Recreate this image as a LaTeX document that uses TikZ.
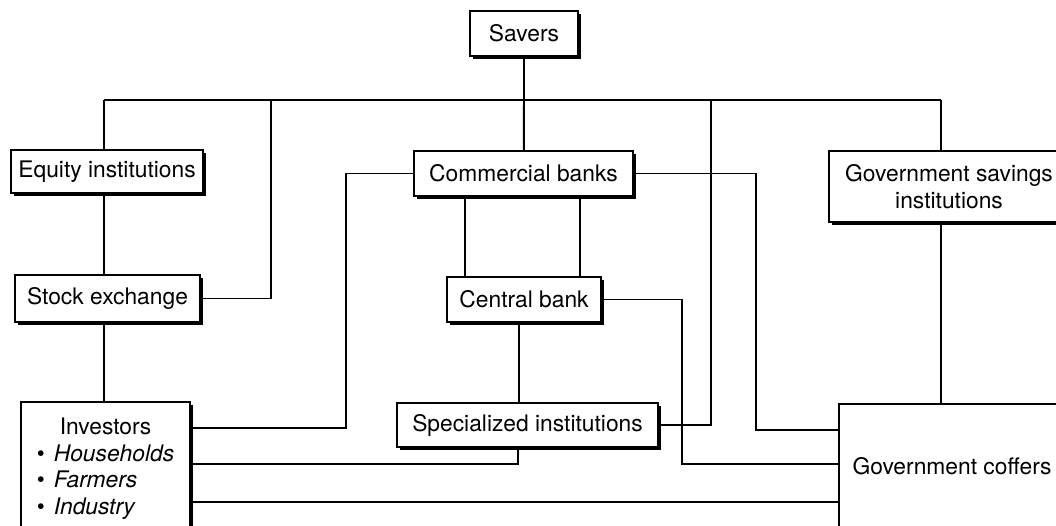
\documentclass[tikz,border=0pt]{standalone}
\usepackage{fontspec}
\setmainfont{TeX Gyre Heros}
\usetikzlibrary{shadows}
\begin{document}
\begin{tikzpicture}[x=1pt,y=-1pt]
	 \tikzstyle{box}=[draw,line width=1.9pt,fill=white,inner sep=0pt,font=\fontsize{22.8}{26.5}\selectfont,
	   drop shadow={shadow xshift=2.6pt,shadow yshift=-2.6pt,fill=black,opacity=1}]
	 \tikzstyle{link}=[draw,line width=1.5pt,-,black]

	 \useasboundingbox (0,0) rectangle (1056,525);
	 \clip (0,0) rectangle (1056,525);

	 \coordinate (busL) at (104,100);
	 \coordinate (busS) at (271,100);
	 \coordinate (busX) at (711,100);
	 \coordinate (busR) at (941,100);
	 \coordinate (cbL) at (465,0);
	 \coordinate (cbR) at (580,0);
	 \coordinate (cbC) at (519,0);
	 \coordinate (jA) at (346,428);
	 \coordinate (jB) at (756,430);
	 \coordinate (jC) at (682,464);
	 \coordinate (jD) at (518,464);
	 \coordinate (jE) at (0,502);

	 \draw[link] (busL) -- (busR);
	 \draw[link] (524,56) -- (524,151);
	 \draw[link] (busL) -- (busL |- 0,150);
	 \draw[link] (busR) -- (busR |- 0,151);

	 \node[box,minimum width=108,minimum height=45] (savers) at (524,33.5) {Savers};
	 \node[box,minimum width=192,minimum height=43] (equity) at (107,171.5) {Equity institutions};
	 \node[box,minimum width=219,minimum height=45] (commercial) at (523.5,173.5) {Commercial banks};
	 \node[box,minimum width=240,minimum height=71,align=center] (govsav) at (949,186.5) {Government savings\\institutions};
	 \node[box,minimum width=185,minimum height=47] (stock) at (107.5,298.5) {Stock exchange};
	 \node[box,minimum width=154,minimum height=45] (central) at (524,299.5) {Central bank};
	 \node[box,minimum width=261,minimum height=44] (specialized) at (527.5,425) {Specialized institutions};
	 \node[box,minimum width=169,minimum height=134] (investors) at (105.5,469) {%
	   \begin{tabular}{@{}l@{\hspace{9pt}}l@{}}
	   \multicolumn{2}{c}{Investors}\\
	   \textbullet & \textit{Households}\\
	   \textbullet & \textit{Farmers}\\
	   \textbullet & \textit{Industry}
	   \end{tabular}};
	 \node[box,minimum width=226,minimum height=124] (coffers) at (952,466) {Government coffers};

	 \draw[link] (savers.south) -- (commercial.north);
	 \draw[link] (busL |- equity.south) -- (busL |- stock.north);
	 \draw[link] (busL |- stock.south) -- (busL |- investors.north);
	 \draw[link] (busS) |- (stock.east);
	 \draw[link] (busX) |- (specialized.east);
	 \draw[link] (busR |- govsav.south) -- (busR |- coffers.north);
	 \draw[link] (commercial.west) -| (jA) -- (jA -| investors.east);
	 \draw[link] (cbL |- commercial.south) -- (cbL |- central.north);
	 \draw[link] (cbR |- commercial.south) -- (cbR |- central.north);
	 \draw[link] (commercial.east) -| (jB) -- (jB -| coffers.west);
	 \draw[link] (cbC |- central.south) -- (cbC |- specialized.north);
	 \draw[link] (central.east) -| (jC) -- (jC -| coffers.west);
	 \draw[link] (jD |- specialized.south) |- (jD -| investors.east);
	 \draw[link] (jE -| investors.east) -- (jE -| coffers.west);
\end{tikzpicture}
\end{document}
